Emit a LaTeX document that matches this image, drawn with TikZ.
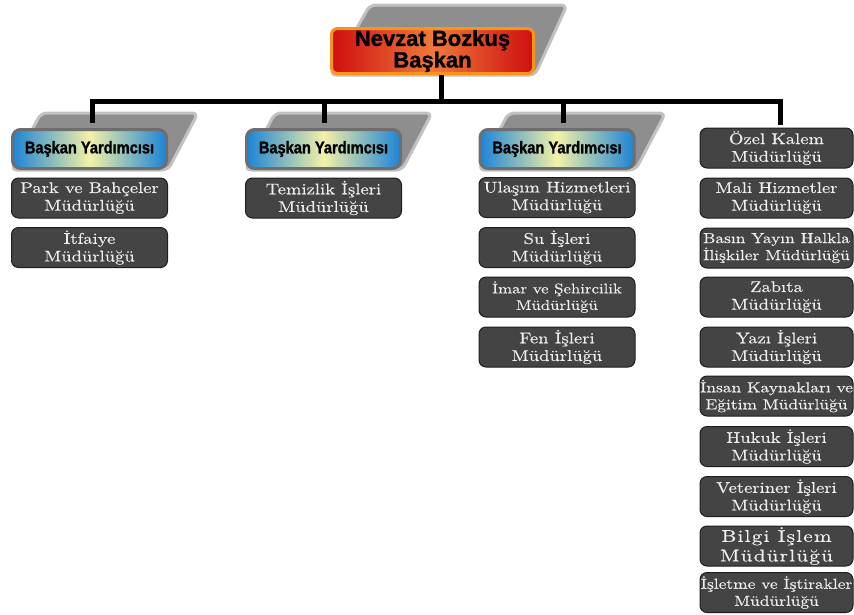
\documentclass[tikz,border=0pt]{standalone}
\usepackage{fontspec}
\usetikzlibrary{backgrounds}
\newfontfamily\deptfont{lmroman10-regular}[Extension=.otf,FakeStretch=1.2,FakeBold=0.4]
\newfontfamily\bigdeptfont{lmroman10-regular}[Extension=.otf,FakeStretch=1.25,LetterSpace=7,FakeBold=0.4]
\newfontfamily\vicefont{Liberation Sans Bold}[FakeStretch=0.86,FakeBold=1.2]
\newfontfamily\chieffont{Liberation Sans Bold}[FakeBold=1.2]
\definecolor{deptfill}{HTML}{444444}
\definecolor{deptline}{HTML}{1E1E1E}
\definecolor{depttext}{HTML}{EDEDED}
\definecolor{viceblue}{HTML}{1C84D6}
\definecolor{viceyel}{HTML}{F3F1A6}
\definecolor{viceline}{HTML}{6E6E6E}
\definecolor{chiefred}{HTML}{CF0F0F}
\definecolor{chieforange}{HTML}{F0793A}
\definecolor{chiefline}{HTML}{F7941D}
\definecolor{shadowc}{HTML}{8E8E8E}
\tikzset{
  dept/.style={draw=deptline, line width=1pt, fill=deptfill, rounded corners=7pt,
    minimum width=156pt, minimum height=40pt, inner sep=0pt, text=depttext,
    align=center, font={\deptfont\fontsize{15.5}{17.6}\selectfont}},
  deptR/.style={dept, minimum width=153pt},
  vice/.style={draw=viceline, line width=3pt, rounded corners=8pt,
    left color=viceblue, right color=viceblue, middle color=viceyel,
    minimum width=154pt, minimum height=39pt, inner sep=0pt,
    font={\vicefont\fontsize{17}{20}\selectfont}},
  chief/.style={draw=chiefline, line width=3pt, rounded corners=6pt,
    left color=chiefred, right color=chiefred, middle color=chieforange,
    minimum width=202pt, minimum height=45pt, inner sep=0pt, align=center,
    font={\chieffont\fontsize{22}{20}\selectfont}},
  conn/.style={draw=black, line width=5pt, line join=miter},
  shadowfill/.style={fill=shadowc, draw=shadowc!55!white, line width=3pt, rounded corners=6pt}
}
\begin{document}
\begin{tikzpicture}[x=1pt,y=-1pt]
\useasboundingbox (0,0) rectangle (854,614);

% top
\node[chief] (pres) at (432.5,51) {Nevzat Bozkuş\\Başkan};

% vice presidents
\node[vice] (v1) at (89.5,149) {Başkan Yardımcısı};
\node[vice] (v2) at (323.5,149) {Başkan Yardımcısı};
\node[vice] (v3) at (557,149) {Başkan Yardımcısı};

% column 1
\node[dept] (park) at (89.5,198) {Park ve Bahçeler\\Müdürlüğü};
\node[dept] (itf) at (89.5,247.5) {İtfaiye\\Müdürlüğü};
% column 2
\node[dept] (temiz) at (323.5,198) {Temizlik İşleri\\Müdürlüğü};
% column 3
\node[dept] (ulas) at (557,197.5) {Ulaşım Hizmetleri\\Müdürlüğü};
\node[dept] (su) at (557,247.5) {Su İşleri\\Müdürlüğü};
\node[dept, font={\deptfont\fontsize{14}{16.5}\selectfont}] (imar) at (557,297) {İmar ve Şehircilik\\Müdürlüğü};
\node[dept] (fen) at (557,347) {Fen İşleri\\Müdürlüğü};
% column 4
\node[deptR] (ozel) at (776.5,148) {Özel Kalem\\Müdürlüğü};
\node[deptR] (mali) at (776.5,198) {Mali Hizmetler\\Müdürlüğü};
\node[deptR, font={\deptfont\fontsize{14.5}{17}\selectfont}] (basin) at (776.5,248) {Basın Yayın Halkla\\İlişkiler Müdürlüğü};
\node[deptR] (zabita) at (776.5,297) {Zabıta\\Müdürlüğü};
\node[deptR] (yazi) at (776.5,347) {Yazı İşleri\\Müdürlüğü};
\node[deptR, font={\deptfont\fontsize{14.5}{17}\selectfont}] (insan) at (776.5,396) {İnsan Kaynakları ve\\Eğitim Müdürlüğü};
\node[deptR] (hukuk) at (776.5,446.5) {Hukuk İşleri\\Müdürlüğü};
\node[deptR] (vet) at (776.5,496.5) {Veteriner İşleri\\Müdürlüğü};
\node[deptR, font={\bigdeptfont\fontsize{17}{19.5}\selectfont}] (bilgi) at (776.5,546) {Bilgi İşlem\\Müdürlüğü};
\node[deptR, font={\deptfont\fontsize{14.5}{17}\selectfont}] (islet) at (776.5,592.5) {İşletme ve İştirakler\\Müdürlüğü};

% connectors
\coordinate (j0) at (441,101);
\coordinate (e1) at (92,123);
\coordinate (e2) at (324,123);
\coordinate (e3) at (563,123);
\coordinate (e4) at (780,125);
\coordinate (j4) at (780,101);
\draw[conn] (pres.south -| j0) -- (j0);
\draw[conn] (e1) |- (j4) -- (e4);
\draw[conn] (e2) -- (e2 |- j0);
\draw[conn] (e3) -- (e3 |- j0);

\begin{pgfonlayer}{background}
\fill[white] (0,0) rectangle (854,614);
\path[shadowfill] (pres.south west) -- (pres.south east) -- ([shift={(32pt,22pt)}]pres.north east) -- ([shift={(40pt,22pt)}]pres.north west) -- cycle;
\foreach \v in {v1,v2,v3}{
  \path[shadowfill] (\v.south west) -- (\v.south east) -- ([shift={(30pt,15pt)}]\v.north east) -- ([shift={(30pt,15pt)}]\v.north west) -- cycle;
}
\end{pgfonlayer}
\end{tikzpicture}
\end{document}
